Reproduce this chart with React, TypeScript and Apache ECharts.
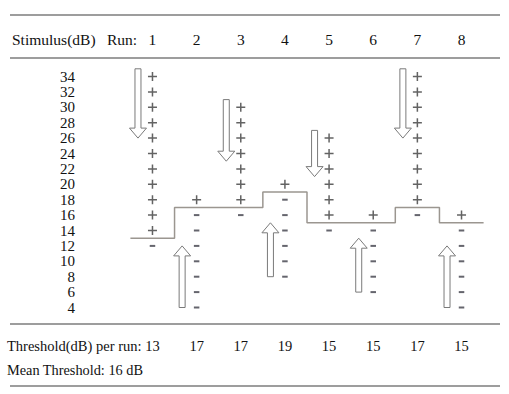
import React, { useEffect, useRef } from "react";
import * as echarts from "echarts";

const runs = [1, 2, 3, 4, 5, 6, 7, 8];
const stimulusTicks = [4, 6, 8, 10, 12, 14, 16, 18, 20, 22, 24, 26, 28, 30, 32, 34];
const thresholds = [13, 17, 17, 19, 15, 15, 17, 15];
const plusLevels = [
  [34, 32, 30, 28, 26, 24, 22, 20, 18, 16, 14],
  [18],
  [30, 28, 26, 24, 22, 20, 18],
  [20],
  [26, 24, 22, 20, 18, 16],
  [16],
  [34, 32, 30, 28, 26, 24, 22, 20, 18],
  [16],
];
const minusLevels = [
  [12],
  [16, 14, 12, 10, 8, 6, 4],
  [16],
  [18, 16, 14, 12, 10, 8],
  [14],
  [14, 12, 10, 8, 6],
  [16],
  [14, 12, 10, 8, 6, 4],
];
// arrows: [run, from dB, to dB]
const arrows = [
  [1, 35, 26],
  [2, 4, 12],
  [3, 31, 23],
  [4, 8, 15],
  [5, 27, 21],
  [6, 6, 13],
  [7, 35, 26],
  [8, 4, 12],
];

const FONT = "Liberation Serif";
const TXT = "#111111";
const RULE = "#7c7c7c";

export default function App() {
  const ref = useRef<HTMLDivElement>(null);
  useEffect(() => {
    if (!ref.current) return;
    const chart = echarts.init(ref.current, undefined, { renderer: "svg" });

    const stepData: number[][] = [];
    thresholds.forEach((t, i) => {
      stepData.push([runs[i] - 0.5, t]);
      stepData.push([runs[i] + 0.5, t]);
    });
    const plusData: number[][] = [];
    plusLevels.forEach((lv, i) => lv.forEach((v) => plusData.push([runs[i], v])));
    const minusData: number[][] = [];
    minusLevels.forEach((lv, i) => lv.forEach((v) => minusData.push([runs[i], v])));
    const mean = thresholds.reduce((a, b) => a + b, 0) / thresholds.length;

    const gridLeft = 130.4;
    const gridRight = 509 - 483.6;
    const gridTop = 76.5;
    const gridBottomY = 307.5;

    const hLine = (y: number) => ({
      type: "line",
      shape: { x1: 10, y1: y, x2: 500, y2: y },
      style: { stroke: RULE, lineWidth: 1.6 },
    });

    chart.setOption({
      animation: false,
      backgroundColor: "#ffffff",
      grid: {
        left: gridLeft,
        right: gridRight,
        top: gridTop,
        height: gridBottomY - gridTop,
        containLabel: false,
      },
      xAxis: [
        {
          type: "value",
          min: 0.5,
          max: 8.5,
          position: "bottom",
          axisLine: { show: false },
          axisTick: { show: false },
          splitLine: { show: false },
          axisLabel: {
            customValues: runs,
            formatter: (v: number) => String(thresholds[Math.round(v) - 1]),
            fontFamily: FONT,
            fontSize: 14.5,
            color: TXT,
            verticalAlign: "middle",
            margin: 346 - gridBottomY,
          },
        },
        {
          type: "value",
          min: 0.5,
          max: 8.5,
          position: "top",
          axisLine: { show: false },
          axisTick: { show: false },
          splitLine: { show: false },
          axisLabel: {
            customValues: runs,
            formatter: (v: number) => String(Math.round(v)),
            fontFamily: FONT,
            fontSize: 15.5,
            color: TXT,
            verticalAlign: "middle",
            margin: gridTop - 39,
          },
        },
      ],
      yAxis: {
        type: "value",
        min: 4,
        max: 34,
        interval: 2,
        axisLine: { show: false },
        axisTick: { show: false },
        splitLine: { show: false },
        axisLabel: {
          customValues: stimulusTicks,
          fontFamily: FONT,
          fontSize: 15,
          color: TXT,
          align: "right",
          margin: gridLeft - 75,
        },
      },
      graphic: [
        hLine(15),
        hLine(58),
        hLine(324),
        hLine(386),
        {
          type: "text",
          x: 12,
          y: 39,
          style: { text: "Stimulus(dB)", font: `15.5px "${FONT}"`, fill: TXT, verticalAlign: "middle" },
        },
        {
          type: "text",
          x: 107,
          y: 39,
          style: { text: "Run:", font: `15.5px "${FONT}"`, fill: TXT, verticalAlign: "middle" },
        },
        {
          type: "text",
          x: 7,
          y: 346,
          style: { text: "Threshold(dB) per run:", font: `14.5px "${FONT}"`, fill: TXT, verticalAlign: "middle" },
        },
        {
          type: "text",
          x: 7,
          y: 370,
          style: { text: `Mean Threshold: ${mean} dB`, font: `14.3px "${FONT}"`, fill: TXT, verticalAlign: "middle" },
        },
      ],
      series: [
        {
          type: "line",
          data: stepData,
          symbol: "none",
          lineStyle: { color: "#9b9690", width: 1.5 },
          z: 1,
        },
        {
          type: "custom",
          data: arrows,
          clip: false,
          encode: { x: 0, y: [1, 2] },
          z: 2,
          renderItem: (params: any, api: any) => {
            const run = api.value(0);
            const p1 = api.coord([run, api.value(1)]);
            const p2 = api.coord([run, api.value(2)]);
            const x = p1[0] - 14.5;
            const y1 = p1[1];
            const y2 = p2[1];
            const dir = y2 > y1 ? 1 : -1;
            const hb = y2 - dir * 10;
            return {
              type: "polygon",
              shape: {
                points: [
                  [x - 3, y1],
                  [x + 3, y1],
                  [x + 3, hb],
                  [x + 8.5, hb],
                  [x, y2],
                  [x - 8.5, hb],
                  [x - 3, hb],
                ],
              },
              style: { fill: "#ffffff", stroke: "#7a7a7a", lineWidth: 1 },
            };
          },
        },
        {
          type: "scatter",
          data: plusData,
          symbol: "path://M4,0H5.6V4H9.6V5.6H5.6V9.6H4V5.6H0V4H4Z",
          symbolSize: 9,
          itemStyle: { color: "#3c3c3c" },
          z: 3,
        },
        {
          type: "scatter",
          data: minusData,
          symbol: "rect",
          symbolSize: [5.5, 2],
          itemStyle: { color: "#3e3e48" },
          z: 3,
        },
      ],
    });
    return () => chart.dispose();
  }, []);
  return (
    <div
      ref={ref}
      style={{ position: "fixed", left: 0, top: 0, width: 509, height: 394, background: "#fff" }}
    />
  );
}
